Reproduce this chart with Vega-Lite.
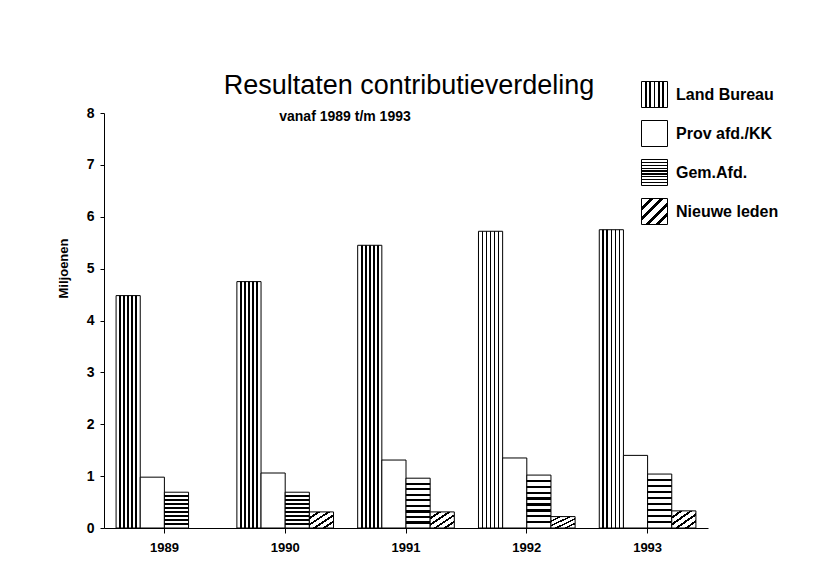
{
  "$schema": "https://vega.github.io/schema/vega-lite/v6.json",
  "width": 604,
  "height": 415,
  "autosize": {"type": "none"},
  "padding": {"left": 104, "top": 113, "right": 122, "bottom": 52},
  "background": "white",
  "title": {
    "text": "Resultaten contributieverdeling",
    "subtitle": "vanaf 1989 t/m 1993",
    "anchor": "middle",
    "frame": "group",
    "font": "Liberation Sans",
    "fontSize": 27,
    "fontWeight": "normal",
    "color": "black",
    "subtitleFont": "Liberation Sans",
    "subtitleFontSize": 14,
    "subtitleFontWeight": "bold",
    "subtitleColor": "black",
    "subtitlePadding": 10,
    "dx": -61,
    "dy": 48,
    "encoding": {"dx": {"value": 3}}
  },
  "data": {
    "values": [
      {"jaar": "1989", "reeks": "Land Bureau", "waarde": 4.48},
      {"jaar": "1989", "reeks": "Prov afd./KK", "waarde": 0.98},
      {"jaar": "1989", "reeks": "Gem.Afd.", "waarde": 0.69},
      {"jaar": "1990", "reeks": "Land Bureau", "waarde": 4.75},
      {"jaar": "1990", "reeks": "Prov afd./KK", "waarde": 1.06},
      {"jaar": "1990", "reeks": "Gem.Afd.", "waarde": 0.69},
      {"jaar": "1990", "reeks": "Nieuwe leden", "waarde": 0.31},
      {"jaar": "1991", "reeks": "Land Bureau", "waarde": 5.45},
      {"jaar": "1991", "reeks": "Prov afd./KK", "waarde": 1.31},
      {"jaar": "1991", "reeks": "Gem.Afd.", "waarde": 0.96},
      {"jaar": "1991", "reeks": "Nieuwe leden", "waarde": 0.31},
      {"jaar": "1992", "reeks": "Land Bureau", "waarde": 5.72},
      {"jaar": "1992", "reeks": "Prov afd./KK", "waarde": 1.35},
      {"jaar": "1992", "reeks": "Gem.Afd.", "waarde": 1.02},
      {"jaar": "1992", "reeks": "Nieuwe leden", "waarde": 0.22},
      {"jaar": "1993", "reeks": "Land Bureau", "waarde": 5.75},
      {"jaar": "1993", "reeks": "Prov afd./KK", "waarde": 1.40},
      {"jaar": "1993", "reeks": "Gem.Afd.", "waarde": 1.04},
      {"jaar": "1993", "reeks": "Nieuwe leden", "waarde": 0.33}
    ]
  },
  "mark": {"type": "bar", "stroke": "black", "strokeWidth": 1},
  "encoding": {
    "x": {
      "field": "jaar",
      "type": "nominal",
      "scale": {"paddingInner": 0.2, "paddingOuter": 0.1},
      "axis": {
        "title": null,
        "labelAngle": 0,
        "tickSize": 5,
        "labelPadding": 8,
        "labelFont": "Liberation Sans",
        "labelFontSize": 13,
        "labelFontWeight": "bold"
      }
    },
    "xOffset": {
      "field": "reeks",
      "type": "nominal",
      "sort": ["Land Bureau", "Prov afd./KK", "Gem.Afd.", "Nieuwe leden"],
      "scale": {"paddingInner": 0, "paddingOuter": 0}
    },
    "y": {
      "field": "waarde",
      "type": "quantitative",
      "scale": {"domain": [0, 8], "nice": false},
      "axis": {
        "values": [0, 1, 2, 3, 4, 5, 6, 7, 8],
        "title": "Miljoenen",
        "titleFont": "Liberation Sans",
        "titleFontSize": 13,
        "titleFontWeight": "bold",
        "titleColor": "black",
        "titleX": -41,
        "titleY": 155,
        "titleAlign": "center",
        "titleBaseline": "middle",
        "titleAngle": 270,
        "tickSize": 4,
        "labelPadding": 6,
        "labelFont": "Liberation Sans",
        "labelFontSize": 14,
        "labelFontWeight": "bold"
      }
    },
    "fill": {
      "field": "reeks",
      "type": "nominal",
      "scale": {
        "domain": ["Land Bureau", "Prov afd./KK", "Gem.Afd.", "Nieuwe leden"],
        "range": [
          {"expr": "{gradient: 'linear', x1: 0, y1: 0, x2: 1, y2: 0, stops: [{offset: 0, color: 'white'}, {offset: 0.132, color: 'white'}, {offset: 0.132, color: 'black'}, {offset: 0.202, color: 'black'}, {offset: 0.202, color: 'white'}, {offset: 0.298, color: 'white'}, {offset: 0.298, color: 'black'}, {offset: 0.368, color: 'black'}, {offset: 0.368, color: 'white'}, {offset: 0.465, color: 'white'}, {offset: 0.465, color: 'black'}, {offset: 0.535, color: 'black'}, {offset: 0.535, color: 'white'}, {offset: 0.632, color: 'white'}, {offset: 0.632, color: 'black'}, {offset: 0.702, color: 'black'}, {offset: 0.702, color: 'white'}, {offset: 0.798, color: 'white'}, {offset: 0.798, color: 'black'}, {offset: 0.868, color: 'black'}, {offset: 0.868, color: 'white'}, {offset: 1, color: 'white'}]}"},
          "white",
          {"expr": "{gradient: 'linear', x1: 0, y1: 0, x2: 0, y2: 1, stops: [{offset: 0, color: 'white'}, {offset: 0.089, color: 'white'}, {offset: 0.089, color: 'black'}, {offset: 0.133, color: 'black'}, {offset: 0.133, color: 'white'}, {offset: 0.2, color: 'white'}, {offset: 0.2, color: 'black'}, {offset: 0.244, color: 'black'}, {offset: 0.244, color: 'white'}, {offset: 0.311, color: 'white'}, {offset: 0.311, color: 'black'}, {offset: 0.356, color: 'black'}, {offset: 0.356, color: 'white'}, {offset: 0.422, color: 'white'}, {offset: 0.422, color: 'black'}, {offset: 0.467, color: 'black'}, {offset: 0.467, color: 'white'}, {offset: 0.533, color: 'white'}, {offset: 0.533, color: 'black'}, {offset: 0.578, color: 'black'}, {offset: 0.578, color: 'white'}, {offset: 0.644, color: 'white'}, {offset: 0.644, color: 'black'}, {offset: 0.689, color: 'black'}, {offset: 0.689, color: 'white'}, {offset: 0.756, color: 'white'}, {offset: 0.756, color: 'black'}, {offset: 0.8, color: 'black'}, {offset: 0.8, color: 'white'}, {offset: 0.867, color: 'white'}, {offset: 0.867, color: 'black'}, {offset: 0.911, color: 'black'}, {offset: 0.911, color: 'white'}, {offset: 1, color: 'white'}]}"},
          {"expr": "{gradient: 'linear', x1: 0, y1: 0, x2: 1, y2: 1, stops: [{offset: 0, color: 'white'}, {offset: 0.165, color: 'white'}, {offset: 0.165, color: 'black'}, {offset: 0.235, color: 'black'}, {offset: 0.235, color: 'white'}, {offset: 0.365, color: 'white'}, {offset: 0.365, color: 'black'}, {offset: 0.435, color: 'black'}, {offset: 0.435, color: 'white'}, {offset: 0.565, color: 'white'}, {offset: 0.565, color: 'black'}, {offset: 0.635, color: 'black'}, {offset: 0.635, color: 'white'}, {offset: 0.765, color: 'white'}, {offset: 0.765, color: 'black'}, {offset: 0.835, color: 'black'}, {offset: 0.835, color: 'white'}, {offset: 1, color: 'white'}]}"}
        ]
      },
      "legend": {
        "title": null,
        "orient": "none",
        "legendX": 537,
        "legendY": -32,
        "padding": 0,
        "symbolType": "square",
        "symbolSize": 676,
        "symbolStrokeColor": "black",
        "symbolStrokeWidth": 1,
        "rowPadding": 8,
        "labelOffset": 8,
        "labelFont": "Liberation Sans",
        "labelFontSize": 16,
        "labelFontWeight": "bold",
        "labelColor": "black",
        "labelLimit": 200
      }
    }
  },
  "config": {
    "view": {"stroke": null},
    "axis": {
      "grid": false,
      "domainColor": "black",
      "tickColor": "black",
      "labelColor": "black",
      "titleColor": "black"
    }
  }
}
